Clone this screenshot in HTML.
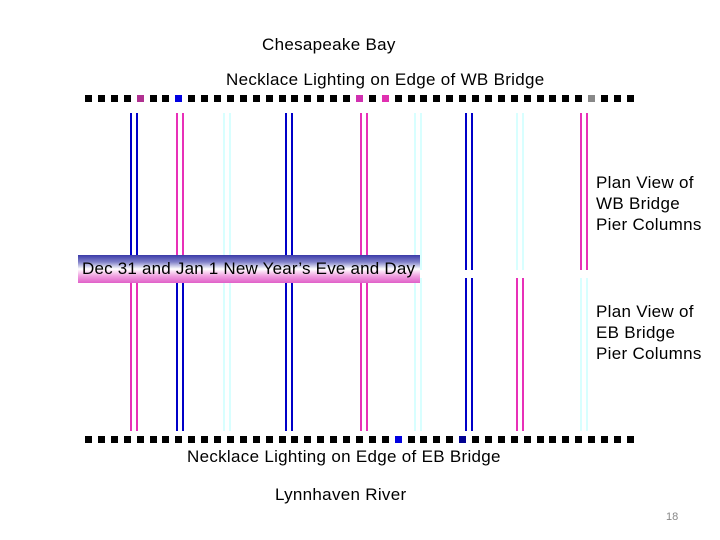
<!DOCTYPE html>
<html><head><style>
body{margin:0;width:720px;height:540px;background:#fff;position:relative;overflow:hidden;font-family:"Liberation Sans","DejaVu Sans",sans-serif;}
.t{position:absolute;font-size:17px;letter-spacing:0.3px;color:#000;white-space:nowrap;line-height:21px;}
.sq{position:absolute;width:7px;height:7px;background:#000;}
.v{position:absolute;width:2px;}
#banner{position:absolute;left:78px;top:255px;width:342px;height:28px;background:linear-gradient(#3a3aa8 0%,#8080c8 25%,#fff 50%,#f0a0e0 75%,#e060c8 100%);font-size:17px;letter-spacing:0.2px;line-height:28px;padding-left:4px;box-sizing:border-box;white-space:nowrap;}
</style></head><body>
<div class="t" style="left:262px;top:34px">Chesapeake Bay</div>
<div class="t" style="left:226px;top:69px">Necklace Lighting on Edge of WB Bridge</div>
<div class="t" style="left:187px;top:446px">Necklace Lighting on Edge of EB Bridge</div>
<div class="t" style="left:275px;top:484px">Lynnhaven River</div>
<div class="t" style="left:596px;top:172px">Plan View of<br>WB Bridge<br>Pier Columns</div>
<div class="t" style="left:596px;top:301px">Plan View of<br>EB Bridge<br>Pier Columns</div>
<div class="t" style="left:666px;top:507px;font-size:11px;letter-spacing:0;color:#888">18</div>
<div id="lines"></div>
<div id="sq"></div>
<div id="banner">Dec 31 and Jan 1 New Year’s Eve and Day</div>
<script>
var B='#0000c8',P='#e830b8',C='#d8ffff';
var cols=[[130,B,P],[176,P,B],[223,C,C],[285,B,B],[360,P,P],[414,C,C],[465,B,B],[516,C,P],[580,P,C]];
var h='';
cols.forEach(function(c){
 [0,6].forEach(function(o){
  h+='<div class="v" style="left:'+(c[0]+o)+'px;top:113px;height:157px;background:'+c[1]+'"></div>';
  h+='<div class="v" style="left:'+(c[0]+o)+'px;top:278px;height:153px;background:'+c[2]+'"></div>';
 });
});
document.getElementById('lines').innerHTML=h;
var s='';
var topC={4:'#b03090',7:'#0000e0',21:'#d030b0',23:'#e030b0',39:'#888'};
var botC={24:'#0000e0',29:'#000090'};
for(var i=0;i<43;i++){
 var x=Math.round(85+i*12.9);
 s+='<div class="sq" style="left:'+x+'px;top:95px;background:'+(topC[i]||'#000')+'"></div>';
 s+='<div class="sq" style="left:'+x+'px;top:436px;background:'+(botC[i]||'#000')+'"></div>';
}
document.getElementById('sq').innerHTML=s;
</script>
</body></html>
